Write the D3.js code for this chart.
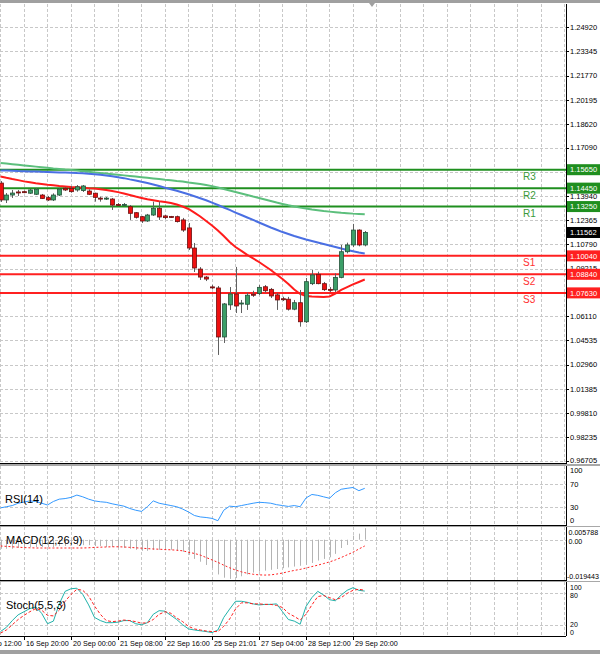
<!DOCTYPE html>
<html><head><meta charset="utf-8">
<script src="https://cdn.jsdelivr.net/npm/d3@7"></script>
<style>body{margin:0;background:#fff}svg{display:block;font-family:"Liberation Sans",Arial,sans-serif}</style>
</head><body><svg id="c" width="600" height="654"></svg>
<script>
// ---------- DATA (GBPUSD H4) ----------
const opens  = [1.1478,1.1368,1.1400,1.1420,1.1422,1.1412,1.1405,1.1400,1.1383,1.1368,1.1400,1.1444,1.1444,1.1433,1.1429,1.1426,1.1412,1.1380,1.1378,1.1374,1.1339,1.1337,1.1324,1.1285,1.1259,1.1231,1.1270,1.1314,1.1264,1.1260,1.1259,1.1238,1.1186,1.1055,1.0918,1.0866,1.0802,1.0795,1.0476,1.0685,1.0756,1.0695,1.0689,1.0754,1.0760,1.0803,1.0786,1.0750,1.0725,1.0722,1.0657,1.0699,1.0575,1.0823,1.0884,1.0823,1.0786,1.0782,1.0864,1.1031,1.1075,1.1172,1.1075];
const highs  = [1.1491,1.1413,1.1433,1.1433,1.1429,1.1439,1.1446,1.1407,1.1394,1.1411,1.1446,1.1452,1.1459,1.1465,1.1465,1.1437,1.1415,1.1389,1.1387,1.1381,1.1348,1.1348,1.1335,1.1289,1.1264,1.1277,1.1357,1.1357,1.1270,1.1264,1.1266,1.1251,1.1218,1.1088,1.0931,1.0873,1.0815,1.0808,1.0697,1.0801,1.0932,1.0717,1.0764,1.0777,1.0814,1.0814,1.0795,1.0762,1.0738,1.0737,1.0717,1.0782,1.0860,1.0912,1.0901,1.0834,1.0801,1.0890,1.1075,1.1090,1.1212,1.1177,1.1166];
const lows   = [1.1355,1.1348,1.1381,1.1394,1.1412,1.1407,1.1400,1.1374,1.1361,1.1361,1.1394,1.1426,1.1415,1.1422,1.1420,1.1400,1.1357,1.1357,1.1368,1.1303,1.1329,1.1331,1.1238,1.1247,1.1218,1.1225,1.1264,1.1238,1.1244,1.1251,1.1221,1.1160,1.1042,1.0899,1.0847,1.0840,1.0788,1.0359,1.0437,1.0652,1.0632,1.0632,1.0652,1.0737,1.0749,1.0764,1.0730,1.0652,1.0710,1.0648,1.0650,1.0543,1.0567,1.0814,1.0819,1.0775,1.0769,1.0769,1.0858,1.1020,1.1061,1.1066,1.1066];
const closes = [1.1368,1.1400,1.1413,1.1419,1.1420,1.1433,1.1438,1.1378,1.1368,1.1400,1.1439,1.1433,1.1422,1.1454,1.1459,1.1405,1.1385,1.1378,1.1380,1.1335,1.1337,1.1339,1.1281,1.1255,1.1231,1.1270,1.1314,1.1257,1.1253,1.1258,1.1227,1.1172,1.1055,1.0925,1.0866,1.0853,1.0798,1.0476,1.0691,1.0756,1.0678,1.0697,1.0748,1.0752,1.0799,1.0777,1.0743,1.0717,1.0723,1.0657,1.0699,1.0575,1.0836,1.0880,1.0823,1.0784,1.0782,1.0864,1.1031,1.1075,1.1172,1.1075,1.11562];

const maSlow = [1.1609,1.1605,1.1601,1.1597,1.1593,1.1589,1.1585,1.1581,1.1577,1.1573,1.1570,1.1566,1.1563,1.1559,1.1555,1.1551,1.1547,1.1543,1.1540,1.1536,1.1532,1.1528,1.1524,1.1520,1.1516,1.1512,1.1508,1.1504,1.1500,1.1497,1.1492,1.1488,1.1482,1.1477,1.1472,1.1465,1.1458,1.1449,1.1439,1.1430,1.1420,1.1410,1.1400,1.1390,1.1381,1.1371,1.1361,1.1351,1.1342,1.1333,1.1325,1.1318,1.1312,1.1306,1.1301,1.1296,1.1292,1.1288,1.1284,1.1282,1.1279,1.1277,1.1275];
const maMid  = [1.1560,1.1559,1.1558,1.1556,1.1555,1.1554,1.1553,1.1551,1.1550,1.1549,1.1547,1.1546,1.1545,1.1543,1.1542,1.1539,1.1536,1.1532,1.1527,1.1522,1.1516,1.1510,1.1502,1.1495,1.1486,1.1478,1.1469,1.1459,1.1448,1.1438,1.1428,1.1417,1.1405,1.1392,1.1379,1.1366,1.1351,1.1335,1.1319,1.1303,1.1286,1.1270,1.1254,1.1238,1.1221,1.1205,1.1189,1.1174,1.1159,1.1146,1.1133,1.1122,1.1111,1.1101,1.1091,1.1081,1.1071,1.1062,1.1052,1.1042,1.1034,1.1026,1.1019];
const maFast = [1.1521,1.1512,1.1504,1.1497,1.1489,1.1483,1.1477,1.1472,1.1467,1.1463,1.1459,1.1456,1.1452,1.1450,1.1447,1.1444,1.1442,1.1438,1.1433,1.1426,1.1419,1.1410,1.1400,1.1390,1.1381,1.1372,1.1366,1.1360,1.1355,1.1348,1.1338,1.1325,1.1309,1.1286,1.1260,1.1231,1.1202,1.1169,1.1133,1.1094,1.1062,1.1036,1.1010,1.0987,1.0964,1.0938,1.0912,1.0883,1.0853,1.0821,1.0785,1.0756,1.0743,1.0740,1.0738,1.0736,1.0740,1.0759,1.0782,1.0801,1.0818,1.0834,1.0850];

const rsi = [29,31,33,37,39,41,40,37,34,40,44,45,47,51,48,44,41,39.5,38.6,36,34,32,28,25,23,31,41,37,35,33,31,27,22,16,13.5,12.5,11,7,25,32,31,33,35,37,38.6,38,37,34.5,33,31.5,33,31,46,52,50.5,48,45.5,55,61,62.6,64,58.5,62.6];
const macdMain = [-0.0045,-0.0045,-0.0045,-0.0040,-0.0040,-0.0036,-0.0036,-0.0036,-0.0036,-0.0036,-0.0031,-0.0031,-0.0027,-0.0027,-0.0027,-0.0027,-0.0031,-0.0031,-0.0036,-0.0036,-0.0040,-0.0040,-0.0045,-0.0050,-0.0055,-0.0055,-0.0050,-0.0050,-0.0050,-0.0050,-0.0055,-0.0060,-0.0075,-0.0095,-0.0109,-0.0125,-0.0140,-0.0172,-0.0188,-0.0194,-0.0190,-0.0181,-0.0172,-0.0163,-0.0158,-0.0153,-0.0149,-0.0145,-0.0141,-0.0137,-0.0133,-0.0129,-0.0124,-0.0115,-0.0103,-0.0095,-0.0087,-0.0070,-0.0041,-0.0026,0.0020,0.0030,0.0057];
const macdSignal = [-0.0031,-0.0033,-0.0035,-0.0037,-0.0039,-0.0040,-0.0041,-0.0041,-0.0041,-0.0041,-0.0041,-0.0041,-0.0041,-0.0041,-0.0041,-0.0040,-0.0038,-0.0037,-0.0036,-0.0035,-0.0035,-0.0036,-0.0038,-0.0040,-0.0042,-0.0044,-0.0046,-0.0047,-0.0049,-0.0050,-0.0052,-0.0055,-0.0062,-0.0068,-0.0076,-0.0088,-0.0100,-0.0112,-0.0126,-0.0139,-0.0150,-0.0159,-0.0166,-0.0171,-0.0174,-0.0175,-0.0174,-0.0170,-0.0165,-0.0158,-0.0152,-0.0147,-0.0140,-0.0133,-0.0126,-0.0118,-0.0110,-0.0100,-0.0088,-0.0075,-0.0062,-0.0046,-0.0031];
const stochK = [7,15,28,39,45,51,54,42,22,27,60,84,89,90,78,58,34,28,24,24,25,28,28,22,20,24,40,47,46,38,30,20,12,10,8.5,7,5,10,34,50,65,65,63,60,58,59,59,60,45,30,27,21,55,72,84,77,68,66,77,86,91,86,84.5];
const stochD = [4,10,20,30,38,45,51,48,38,37,48,65,78,88,86,75,56,40,28,26,27,29,28,26,23,24,30,40,45,42,33,26,17,12,10,8,7,7,17,31,50,62,62,60,60,59,59,57,53,42,36,29,40,58,74,76,72,68,72,80,86,88,86];

// price scale labels (those fully covered by level boxes in the reference are omitted)
const priceTicks = [1.24920,1.23345,1.21770,1.20195,1.18620,1.17090,1.13940,1.12365,1.10790,1.09215,1.06110,1.04535,1.02960,1.01385,0.99810,0.98235,0.96705];
const gridTicks  = [1.24920,1.23345,1.21770,1.20195,1.18620,1.17090,1.15515,1.13940,1.12365,1.10790,1.09215,1.07640,1.06110,1.04535,1.02960,1.01385,0.99810,0.98235,0.96705];
const timeLabels = ["15 Sep 12:00","16 Sep 20:00","20 Sep 00:00","21 Sep 08:00","22 Sep 16:00","25 Sep 21:01","27 Sep 04:00","28 Sep 12:00","29 Sep 20:00"];
const timeLabelIdx = [-4,4,12,20,28,36,44,52,60];

const levelNames  = ["R3","R2","R1","S1","S2","S3"];
const levelValues = [1.15650,1.14450,1.13250,1.10040,1.08840,1.07630];

const rsiLevels = [100,70,30,0];
const macdLabels = [0.005788,0.00,-0.019443];
const stochLevels = [100,80,20,0];

// ---------- DRAW ----------
const svg = d3.select("#c");
const AX = 566;
const n = closes.length;
const x = d3.scaleLinear().domain([0,96]).range([0.5,564.5]);
const y = d3.scaleLinear().domain([0.96705,1.24920]).range([460.7,27.3]);
const yR = d3.scaleLinear().domain([0,100]).range([524.8,466.5]);
const yM = d3.scaleLinear().domain([-0.019443,0.005788]).range([579,528]);
const yS = d3.scaleLinear().domain([0,100]).range([635.2,583]);

const panels = [
  {top:4,   bottom:463},
  {top:466, bottom:525},
  {top:527, bottom:580},
  {top:582, bottom:636}
];

svg.append("rect").attr("width",600).attr("height",654).attr("fill","#fff");
svg.append("rect").attr("x",0).attr("y",0).attr("width",600).attr("height",3).attr("fill","#a0a0a0");
svg.append("rect").attr("x",0).attr("y",650).attr("width",600).attr("height",4).attr("fill","#a0a0a0");

const defs = svg.append("defs");
panels.forEach((p,i)=>{
  defs.append("clipPath").attr("id","clip"+i).append("rect")
    .attr("x",0).attr("y",p.top).attr("width",AX).attr("height",p.bottom-p.top);
});

const gridColor = "#c8c8c8";
const vIdx = d3.range(0,97,4);
panels.forEach((p,i)=>{
  const g = svg.append("g").attr("clip-path",`url(#clip${i})`);
  g.selectAll("line").data(vIdx).join("line")
    .attr("x1",d=>x(d)).attr("x2",d=>x(d)).attr("y1",p.top).attr("y2",p.bottom)
    .attr("stroke",gridColor).attr("stroke-dasharray","3,2").attr("shape-rendering","crispEdges");
});
svg.append("g").selectAll("line").data(gridTicks).join("line")
  .attr("x1",0).attr("x2",AX).attr("y1",d=>Math.round(y(d))+0.5).attr("y2",d=>Math.round(y(d))+0.5)
  .attr("stroke",gridColor).attr("stroke-dasharray","3,2");
svg.append("g").selectAll("line").data([70,30]).join("line")
  .attr("x1",0).attr("x2",AX).attr("y1",d=>Math.round(yR(d))+0.5).attr("y2",d=>Math.round(yR(d))+0.5)
  .attr("stroke",gridColor).attr("stroke-dasharray","3,2");
svg.append("g").selectAll("line").data([0]).join("line")
  .attr("x1",0).attr("x2",AX).attr("y1",d=>Math.round(yM(d))+0.5).attr("y2",d=>Math.round(yM(d))+0.5)
  .attr("stroke",gridColor).attr("stroke-dasharray","3,2");
svg.append("g").selectAll("line").data([80,20]).join("line")
  .attr("x1",0).attr("x2",AX).attr("y1",d=>Math.round(yS(d))+0.5).attr("y2",d=>Math.round(yS(d))+0.5)
  .attr("stroke",gridColor).attr("stroke-dasharray","3,2");

// ---- main panel ----
const gm = svg.append("g").attr("clip-path","url(#clip0)");
const idx = d3.range(n);
const lineGen = arr => d3.line().x((d,i)=>x(i)).y(d=>y(d))(arr);

const lvColor = nm => nm[0]==="R" ? "#1f8f1f" : "#ff2020";
gm.selectAll(".lv").data(levelValues).join("line")
  .attr("x1",0).attr("x2",AX).attr("y1",d=>y(d)).attr("y2",d=>y(d))
  .attr("stroke",(d,i)=>lvColor(levelNames[i])).attr("stroke-width",2);

gm.append("path").attr("d",lineGen(maSlow)).attr("fill","none").attr("stroke","#5cbf7c").attr("stroke-width",2);
gm.append("path").attr("d",lineGen(maMid)).attr("fill","none").attr("stroke","#4a6fe3").attr("stroke-width",2);
gm.append("path").attr("d",lineGen(maFast)).attr("fill","none").attr("stroke","#ff1c1c").attr("stroke-width",2);

const cg = gm.append("g");
cg.selectAll(".wick").data(idx).join("line")
  .attr("x1",i=>Math.round(x(i))+0.5).attr("x2",i=>Math.round(x(i))+0.5)
  .attr("y1",i=>y(highs[i])).attr("y2",i=>y(lows[i]))
  .attr("stroke","#606060").attr("stroke-width",1);
cg.selectAll(".body").data(idx).join("rect")
  .attr("x",i=>Math.round(x(i))-1.5)
  .attr("width",4)
  .attr("y",i=>y(Math.max(opens[i],closes[i])))
  .attr("height",i=>Math.max(1,Math.abs(y(opens[i])-y(closes[i]))))
  .attr("fill",i=>closes[i]>=opens[i]?"#3c9f68":"#ee1010")
  .attr("stroke",i=>closes[i]>=opens[i]?"#24513a":"#6a1010").attr("stroke-width",0.8);

svg.selectAll(".lvt").data(levelValues).join("text")
  .attr("x",523).attr("y",d=>y(d)+10.5)
  .attr("font-size",10).attr("fill",(d,i)=>levelNames[i][0]==="R"?"#3a9a3a":"#ff3030")
  .text((d,i)=>levelNames[i]);

// ---- right axis ----
svg.append("line").attr("x1",AX+0.5).attr("x2",AX+0.5).attr("y1",4).attr("y2",636).attr("stroke","#000");
panels.forEach(p=>{
  svg.append("line").attr("x1",0).attr("x2",AX).attr("y1",p.bottom+0.5).attr("y2",p.bottom+0.5).attr("stroke","#000");
});
[[463,466],[525,527],[580,582]].forEach(([a,b])=>{
  svg.append("rect").attr("x",0).attr("y",a+1).attr("width",600).attr("height",b-a-1).attr("fill","#a8a8a8");
});

const axFont = 7.5;
svg.append("g").selectAll("text").data(priceTicks).join("text")
  .attr("x",570).attr("y",d=>y(d)+2.7).attr("font-size",axFont).attr("fill","#000")
  .text(d=>d.toFixed(5));
svg.append("g").selectAll("line").data(gridTicks).join("line")
  .attr("x1",AX).attr("x2",AX+3).attr("y1",d=>Math.round(y(d))+0.5).attr("y2",d=>Math.round(y(d))+0.5).attr("stroke","#000");

const boxes = svg.append("g");
levelValues.forEach((v,i)=>{
  const col = levelNames[i][0]==="R" ? "#1f8f1f" : "#ff2020";
  boxes.append("rect").attr("x",567).attr("y",y(v)-5.5).attr("width",33).attr("height",11).attr("fill",col);
  boxes.append("text").attr("x",570).attr("y",y(v)+2.7).attr("font-size",axFont).attr("fill","#fff").text(v.toFixed(5));
});
const last = closes[n-1];
boxes.append("rect").attr("x",567).attr("y",y(last)-5.5).attr("width",33).attr("height",11).attr("fill","#000");
boxes.append("text").attr("x",570).attr("y",y(last)+2.7).attr("font-size",axFont).attr("fill","#fff").text(last.toFixed(5));

// ---- RSI ----
const g1 = svg.append("g").attr("clip-path","url(#clip1)");
g1.append("path").attr("d",d3.line().x((d,i)=>x(i)).y(d=>yR(d))(rsi)).attr("fill","none").attr("stroke","#3399ff").attr("stroke-width",1);
svg.append("text").attr("x",5).attr("y",503).attr("font-size",11).attr("fill","#000").text("RSI(14)");
svg.append("g").selectAll("text").data(rsiLevels).join("text")
  .attr("x",570).attr("y",(d,i)=>[472.5,487,509.5,523][i]).attr("font-size",axFont).text(d=>d);

// ---- MACD ----
const g2 = svg.append("g").attr("clip-path","url(#clip2)");
g2.selectAll("line").data(idx).join("line")
  .attr("x1",i=>Math.round(x(i))+0.5).attr("x2",i=>Math.round(x(i))+0.5)
  .attr("y1",yM(0)).attr("y2",i=>yM(macdMain[i]))
  .attr("stroke","#b4b4b4").attr("stroke-width",1);
g2.append("path").attr("d",d3.line().x((d,i)=>x(i)).y(d=>yM(d))(macdSignal)).attr("fill","none")
  .attr("stroke","#ff2020").attr("stroke-width",1).attr("stroke-dasharray","2,2");
svg.append("text").attr("x",6).attr("y",544).attr("font-size",11).attr("fill","#000").text("MACD(12,26,9)");
svg.append("g").selectAll("text").data(macdLabels).join("text")
  .attr("x",(d,i)=>i===2?567:568.5).attr("y",(d,i)=>[534.5,543.5,578.5][i]).attr("font-size",7.1)
  .text(d=>d===0?"0.00":d.toFixed(6));

// ---- Stoch ----
const g3 = svg.append("g").attr("clip-path","url(#clip3)");
g3.append("path").attr("d",d3.line().x((d,i)=>x(i)).y(d=>yS(d))(stochK)).attr("fill","none").attr("stroke","#20b2aa").attr("stroke-width",1);
g3.append("path").attr("d",d3.line().x((d,i)=>x(i)).y(d=>yS(d))(stochD)).attr("fill","none")
  .attr("stroke","#ff2020").attr("stroke-width",1).attr("stroke-dasharray","3,2");
svg.append("text").attr("x",6).attr("y",609).attr("font-size",11).attr("fill","#000").text("Stoch(5,5,3)");
svg.append("g").selectAll("text").data(stochLevels).join("text")
  .attr("x",570).attr("y",(d,i)=>[589.5,598,626.5,634.5][i]).attr("font-size",7).text(d=>d);

// ---- time axis ----
const tg = svg.append("g");
tg.selectAll("line").data(timeLabelIdx).join("line")
  .attr("x1",d=>Math.round(x(d))+0.5).attr("x2",d=>Math.round(x(d))+0.5).attr("y1",636).attr("y2",640).attr("stroke","#000");
tg.selectAll("text").data(timeLabels).join("text")
  .attr("x",(d,i)=>x(timeLabelIdx[i])+2).attr("y",646).attr("font-size",7.2).attr("fill","#000").text(d=>d);

svg.append("path").attr("d","M369,3 L375,3 L372,7 Z").attr("fill","#a0a0a0");
</script></body></html>
